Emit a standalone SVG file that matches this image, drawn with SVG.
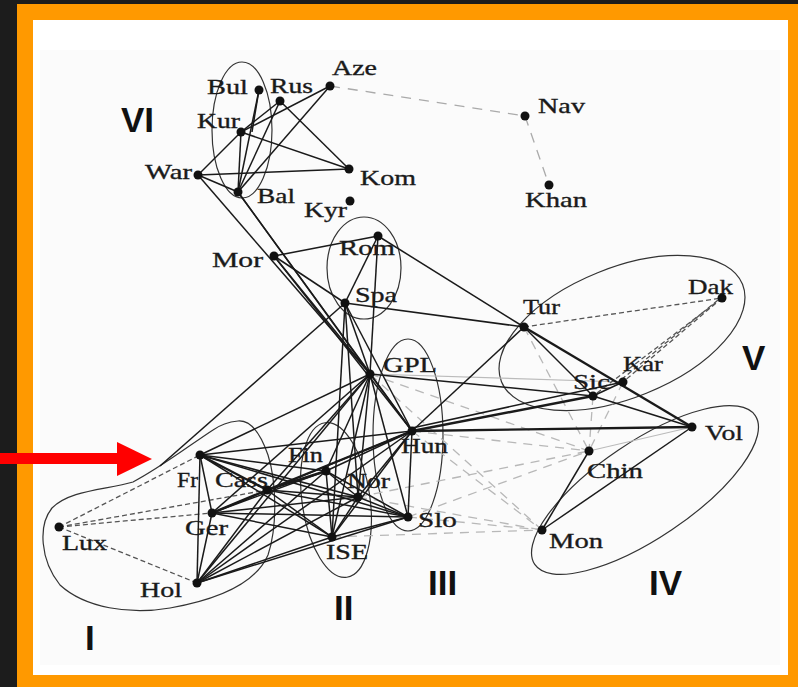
<svg xmlns="http://www.w3.org/2000/svg" width="798" height="687" viewBox="0 0 798 687">
  <defs>
    <style>
      .lbl { font-family: "Liberation Serif", "Times New Roman", serif; font-size: 22px; fill: #1a1a1a; stroke: #1a1a1a; stroke-width: 0.35; }
      .num { font-family: "Liberation Sans", Arial, sans-serif; font-size: 35px; font-weight: bold; fill: #111; }
      .dot { fill: #111; }
      .hull { fill: none; stroke: #333; stroke-width: 1.2; }
      .e { stroke: #1a1a1a; stroke-width: 1.5; fill: none; }
      .e.thick { stroke-width: 2.4; }
      .d { stroke: #555; stroke-width: 1.3; stroke-dasharray: 5 3; fill: none; }
      .lt { stroke: #aaa; stroke-width: 1.3; stroke-dasharray: 10 8; fill: none; }
      .gd { stroke: #b8b8b8; stroke-width: 1.3; stroke-dasharray: 9 7; fill: none; }
      .gs { stroke: #bbb; stroke-width: 1.2; fill: none; }
    </style>
  </defs>

  <!-- frame -->
  <rect x="0" y="0" width="798" height="687" fill="#1c1c1c"/>
  <rect x="17" y="4" width="781" height="683" fill="#ff9900"/>
  <rect x="33" y="20" width="755" height="655" fill="#ffffff"/>
  <rect x="40" y="50" width="740" height="615" fill="#fbfbfb"/>

  <!-- cluster outlines -->
  <g id="hulls">
    <ellipse class="hull" cx="242" cy="130" rx="30" ry="68"/>
    <ellipse class="hull" cx="364" cy="268" rx="37" ry="51"/>
    <ellipse class="hull" cx="408" cy="435" rx="35" ry="96"/>
    <ellipse class="hull" cx="336" cy="500" rx="34" ry="78" transform="rotate(-8 336 500)"/>
    <path class="hull" d="M213,430 C190,445 160,468 133,482 C105,490 70,490 52,508 C38,525 40,560 60,585 C85,608 130,615 170,608 C215,600 255,585 268,555 C278,525 276,480 268,455 C260,432 250,420 238,421 C228,422 220,425 213,430 Z"/>
    <ellipse class="hull" cx="622" cy="333" rx="130" ry="65" transform="rotate(-22 622 333)"/>
    <ellipse class="hull" cx="645" cy="490" rx="133" ry="48" transform="rotate(-34 645 490)"/>
  </g>

  <!-- connectors -->
  <g id="connectors">
    <!-- light grey dashed links between groups III and IV -->
    <line class="gd" x1="412" y1="431" x2="589" y2="451"/>
    <line class="gd" x1="412" y1="431" x2="542" y2="530"/>
    <line class="gd" x1="370" y1="374" x2="542" y2="530"/>
    <line class="gd" x1="408" y1="517" x2="589" y2="451"/>
    <line class="gd" x1="408" y1="517" x2="542" y2="530"/>
    <line class="gd" x1="332" y1="537" x2="542" y2="530"/>
    <line class="gd" x1="358" y1="497" x2="589" y2="451"/>
    <line class="gd" x1="358" y1="497" x2="542" y2="530"/>
    <line class="gd" x1="370" y1="374" x2="589" y2="451"/>
    <line class="gd" x1="524" y1="327" x2="589" y2="451"/>
    <line class="gd" x1="593" y1="396" x2="589" y2="451"/>
    <line class="gd" x1="623" y1="382" x2="589" y2="451"/>
    <line class="gs" x1="692" y1="427" x2="589" y2="451"/>
    <line class="gs" x1="370" y1="374" x2="623" y2="382"/>

    <!-- dashed links -->
    <line class="lt" x1="330" y1="86" x2="525" y2="116"/>
    <line class="lt" x1="525" y1="116" x2="549" y2="185"/>
    <line class="d" x1="59" y1="527" x2="200" y2="455"/>
    <line class="d" x1="59" y1="527" x2="267" y2="490"/>
    <line class="d" x1="59" y1="527" x2="212" y2="513"/>
    <line class="d" x1="59" y1="527" x2="197" y2="583"/>
    <line class="d" x1="524" y1="327" x2="722" y2="298"/>
    <line class="d" x1="722" y1="298" x2="623" y2="382"/>
    <line class="d" x1="718" y1="300" x2="616" y2="384"/>
    <line class="d" x1="722" y1="298" x2="593" y2="396"/>

    <!-- group VI -->
    <line class="e" x1="198" y1="175" x2="241" y2="132"/>
    <line class="e" x1="198" y1="175" x2="349" y2="169"/>
    <line class="e" x1="198" y1="175" x2="238" y2="192"/>
    <line class="e" x1="241" y1="132" x2="330" y2="86"/>
    <line class="e" x1="241" y1="132" x2="280" y2="101"/>
    <line class="e" x1="241" y1="132" x2="349" y2="169"/>
    <line class="e" x1="241" y1="132" x2="238" y2="192"/>
    <line class="e" x1="259" y1="90" x2="238" y2="192"/>
    <line class="e" x1="259" y1="90" x2="252" y2="132"/>
    <line class="e" x1="280" y1="101" x2="238" y2="192"/>
    <line class="e" x1="280" y1="101" x2="349" y2="169"/>
    <line class="e" x1="330" y1="86" x2="238" y2="192"/>

    <!-- long links from VI and Mor -->
    <line class="e" x1="198" y1="175" x2="370" y2="374"/>
    <line class="e" x1="238" y1="192" x2="412" y2="431"/>
    <line class="e" x1="238" y1="192" x2="370" y2="374"/>
    <line class="e" x1="274" y1="256" x2="370" y2="374"/>
    <line class="e" x1="274" y1="256" x2="412" y2="431"/>
    <line class="e" x1="274" y1="256" x2="378" y2="236"/>
    <line class="e" x1="274" y1="256" x2="345" y2="303"/>

    <!-- Rom / Spa -->
    <line class="e" x1="378" y1="236" x2="345" y2="303"/>
    <line class="e" x1="378" y1="236" x2="370" y2="374"/>
    <line class="e" x1="378" y1="236" x2="524" y2="327"/>
    <line class="e" x1="345" y1="303" x2="524" y2="327"/>
    <line class="e" x1="345" y1="303" x2="332" y2="537"/>
    <line class="e" x1="345" y1="303" x2="358" y2="497"/>
    <line class="e" x1="345" y1="303" x2="412" y2="431"/>
    <line class="e" x1="345" y1="303" x2="370" y2="374"/>
    <line class="e" x1="345" y1="303" x2="160" y2="466"/>

    <!-- GPL -->
    <line class="e" x1="370" y1="374" x2="200" y2="455"/>
    <line class="e" x1="370" y1="374" x2="267" y2="490"/>
    <line class="e" x1="370" y1="374" x2="212" y2="513"/>
    <line class="e" x1="370" y1="374" x2="197" y2="583"/>
    <line class="e" x1="370" y1="374" x2="326" y2="471"/>
    <line class="e" x1="370" y1="374" x2="358" y2="497"/>
    <line class="e" x1="370" y1="374" x2="332" y2="537"/>
    <line class="e" x1="370" y1="374" x2="408" y2="517"/>
    <line class="e" x1="370" y1="374" x2="412" y2="431"/>
    <line class="e" x1="370" y1="374" x2="593" y2="396"/>

    <!-- Fr -->
    <line class="e thick" x1="200" y1="455" x2="267" y2="490"/>
    <line class="e" x1="200" y1="455" x2="197" y2="583"/>
    <line class="e" x1="200" y1="455" x2="212" y2="513"/>
    <line class="e" x1="200" y1="455" x2="412" y2="431"/>
    <line class="e" x1="200" y1="455" x2="408" y2="517"/>
    <line class="e" x1="200" y1="455" x2="358" y2="497"/>
    <line class="e" x1="200" y1="455" x2="332" y2="537"/>
    <line class="e" x1="200" y1="455" x2="326" y2="471"/>

    <!-- Hol -->
    <line class="e" x1="197" y1="583" x2="212" y2="513"/>
    <line class="e" x1="197" y1="583" x2="267" y2="490"/>
    <line class="e" x1="197" y1="583" x2="326" y2="471"/>
    <line class="e" x1="197" y1="583" x2="358" y2="497"/>
    <line class="e" x1="197" y1="583" x2="332" y2="537"/>
    <line class="e" x1="197" y1="583" x2="408" y2="517"/>
    <line class="e" x1="197" y1="583" x2="412" y2="431"/>

    <!-- Ger -->
    <line class="e thick" x1="212" y1="513" x2="267" y2="490"/>
    <line class="e" x1="212" y1="513" x2="326" y2="471"/>
    <line class="e" x1="212" y1="513" x2="358" y2="497"/>
    <line class="e" x1="212" y1="513" x2="408" y2="517"/>
    <line class="e" x1="212" y1="513" x2="332" y2="537"/>
    <line class="e" x1="212" y1="513" x2="412" y2="431"/>

    <!-- Cass -->
    <line class="e thick" x1="267" y1="490" x2="326" y2="471"/>
    <line class="e thick" x1="267" y1="490" x2="412" y2="431"/>
    <line class="e" x1="267" y1="490" x2="358" y2="497"/>
    <line class="e" x1="267" y1="490" x2="332" y2="537"/>
    <line class="e" x1="267" y1="490" x2="408" y2="517"/>

    <!-- Fin / Nor / ISE / Slo -->
    <line class="e" x1="326" y1="471" x2="412" y2="431"/>
    <line class="e" x1="326" y1="471" x2="358" y2="497"/>
    <line class="e" x1="326" y1="471" x2="332" y2="537"/>
    <line class="e" x1="326" y1="471" x2="408" y2="517"/>
    <line class="e" x1="358" y1="497" x2="332" y2="537"/>
    <line class="e" x1="358" y1="497" x2="408" y2="517"/>
    <line class="e" x1="358" y1="497" x2="412" y2="431"/>
    <line class="e" x1="332" y1="537" x2="408" y2="517"/>
    <line class="e" x1="332" y1="537" x2="412" y2="431"/>
    <line class="e" x1="408" y1="517" x2="412" y2="431"/>

    <!-- Hun to the east -->
    <line class="e" x1="412" y1="431" x2="524" y2="327"/>
    <line class="e thick" x1="412" y1="431" x2="593" y2="396"/>
    <line class="e" x1="412" y1="428" x2="623" y2="382"/>
    <line class="e thick" x1="412" y1="431" x2="692" y2="427"/>

    <!-- groups V and IV -->
    <line class="e thick" x1="524" y1="327" x2="692" y2="427"/>
    <line class="e" x1="524" y1="327" x2="593" y2="396"/>
    <line class="e" x1="593" y1="396" x2="623" y2="382"/>
    <line class="e" x1="593" y1="396" x2="692" y2="427"/>
    <line class="e" x1="692" y1="427" x2="542" y2="530"/>
    <line class="e" x1="589" y1="451" x2="542" y2="530"/>
  </g>

  <!-- nodes -->
  <g id="n-War"><circle class="dot" cx="198" cy="175" r="4.5"/><text class="lbl" x="145" y="179" textLength="47" lengthAdjust="spacingAndGlyphs">War</text></g>
  <g id="n-Kur"><circle class="dot" cx="241" cy="132" r="4.5"/><text class="lbl" x="197" y="128" textLength="43" lengthAdjust="spacingAndGlyphs">Kur</text></g>
  <g id="n-Bul"><circle class="dot" cx="259" cy="90" r="4.5"/><text class="lbl" x="207" y="94" textLength="41" lengthAdjust="spacingAndGlyphs">Bul</text></g>
  <g id="n-Rus"><circle class="dot" cx="280" cy="101" r="4.5"/><text class="lbl" x="270" y="93" textLength="43" lengthAdjust="spacingAndGlyphs">Rus</text></g>
  <g id="n-Aze"><circle class="dot" cx="330" cy="86" r="4.5"/><text class="lbl" x="332" y="75" textLength="45" lengthAdjust="spacingAndGlyphs">Aze</text></g>
  <g id="n-Kom"><circle class="dot" cx="349" cy="169" r="4.5"/><text class="lbl" x="360" y="185" textLength="56" lengthAdjust="spacingAndGlyphs">Kom</text></g>
  <g id="n-Bal"><circle class="dot" cx="238" cy="192" r="4.5"/><text class="lbl" x="257" y="203" textLength="38" lengthAdjust="spacingAndGlyphs">Bal</text></g>
  <g id="n-Kyr"><circle class="dot" cx="350" cy="201" r="4.5"/><text class="lbl" x="304" y="217" textLength="43" lengthAdjust="spacingAndGlyphs">Kyr</text></g>
  <g id="n-Nav"><circle class="dot" cx="525" cy="116" r="4.5"/><text class="lbl" x="538" y="113" textLength="47" lengthAdjust="spacingAndGlyphs">Nav</text></g>
  <g id="n-Khan"><circle class="dot" cx="549" cy="185" r="4.5"/><text class="lbl" x="525" y="207" textLength="62" lengthAdjust="spacingAndGlyphs">Khan</text></g>
  <g id="n-Mor"><circle class="dot" cx="274" cy="256" r="4.5"/><text class="lbl" x="212" y="267" textLength="51" lengthAdjust="spacingAndGlyphs">Mor</text></g>
  <g id="n-Rom"><circle class="dot" cx="378" cy="236" r="4.5"/><text class="lbl" x="339" y="255" textLength="56" lengthAdjust="spacingAndGlyphs">Rom</text></g>
  <g id="n-Spa"><circle class="dot" cx="345" cy="303" r="4.5"/><text class="lbl" x="355" y="302" textLength="42" lengthAdjust="spacingAndGlyphs">Spa</text></g>
  <g id="n-GPL"><circle class="dot" cx="370" cy="374" r="4.5"/><text class="lbl" x="383" y="372" textLength="54" lengthAdjust="spacingAndGlyphs">GPL</text></g>
  <g id="n-Tur"><circle class="dot" cx="524" cy="327" r="4.5"/><text class="lbl" x="523" y="314" textLength="37" lengthAdjust="spacingAndGlyphs">Tur</text></g>
  <g id="n-Dak"><circle class="dot" cx="722" cy="298" r="4.5"/><text class="lbl" x="688" y="294" textLength="45" lengthAdjust="spacingAndGlyphs">Dak</text></g>
  <g id="n-Kar"><circle class="dot" cx="623" cy="382" r="4.5"/><text class="lbl" x="623" y="371" textLength="40" lengthAdjust="spacingAndGlyphs">Kar</text></g>
  <g id="n-Sic"><circle class="dot" cx="593" cy="396" r="4.5"/><text class="lbl" x="573" y="389" textLength="37" lengthAdjust="spacingAndGlyphs">Sic</text></g>
  <g id="n-Vol"><circle class="dot" cx="692" cy="427" r="4.5"/><text class="lbl" x="705" y="440" textLength="38" lengthAdjust="spacingAndGlyphs">Vol</text></g>
  <g id="n-Hun"><circle class="dot" cx="412" cy="431" r="4.5"/><text class="lbl" x="401" y="453" textLength="47" lengthAdjust="spacingAndGlyphs">Hun</text></g>
  <g id="n-Chin"><circle class="dot" cx="589" cy="451" r="4.5"/><text class="lbl" x="587" y="478" textLength="56" lengthAdjust="spacingAndGlyphs">Chin</text></g>
  <g id="n-Mon"><circle class="dot" cx="542" cy="530" r="4.5"/><text class="lbl" x="549" y="548" textLength="54" lengthAdjust="spacingAndGlyphs">Mon</text></g>
  <g id="n-Slo"><circle class="dot" cx="408" cy="517" r="4.5"/><text class="lbl" x="418" y="527" textLength="39" lengthAdjust="spacingAndGlyphs">Slo</text></g>
  <g id="n-ISE"><circle class="dot" cx="332" cy="537" r="4.5"/><text class="lbl" x="326" y="559" textLength="42" lengthAdjust="spacingAndGlyphs">ISE</text></g>
  <g id="n-Nor"><circle class="dot" cx="358" cy="497" r="4.5"/><text class="lbl" x="347" y="488" textLength="43" lengthAdjust="spacingAndGlyphs">Nor</text></g>
  <g id="n-Fin"><circle class="dot" cx="326" cy="471" r="4.5"/><text class="lbl" x="288" y="462" textLength="35" lengthAdjust="spacingAndGlyphs">Fin</text></g>
  <g id="n-Cass"><circle class="dot" cx="267" cy="490" r="4.5"/><text class="lbl" x="215" y="487" textLength="53" lengthAdjust="spacingAndGlyphs">Cass</text></g>
  <g id="n-Fr"><circle class="dot" cx="200" cy="455" r="4.5"/><text class="lbl" x="177" y="487" textLength="21" lengthAdjust="spacingAndGlyphs">Fr</text></g>
  <g id="n-Ger"><circle class="dot" cx="212" cy="513" r="4.5"/><text class="lbl" x="185" y="535" textLength="43" lengthAdjust="spacingAndGlyphs">Ger</text></g>
  <g id="n-Hol"><circle class="dot" cx="197" cy="583" r="4.5"/><text class="lbl" x="140" y="597" textLength="42" lengthAdjust="spacingAndGlyphs">Hol</text></g>
  <g id="n-Lux"><circle class="dot" cx="59" cy="527" r="4.5"/><text class="lbl" x="62" y="550" textLength="45" lengthAdjust="spacingAndGlyphs">Lux</text></g>

  <!-- group numerals -->
  <g id="numerals">
    <text class="num" x="121" y="132">VI</text>
    <text class="num" x="742" y="370">V</text>
    <text class="num" x="428" y="595">III</text>
    <text class="num" x="649" y="595">IV</text>
    <text class="num" x="334" y="620">II</text>
    <text class="num" x="85" y="650">I</text>
  </g>

  <!-- pointer arrow -->
  <g id="pointer">
    <rect x="0" y="453" width="118" height="11" fill="#ff0000"/>
    <polygon points="117,442 152,459 117,476" fill="#ff0000"/>
  </g>
</svg>
